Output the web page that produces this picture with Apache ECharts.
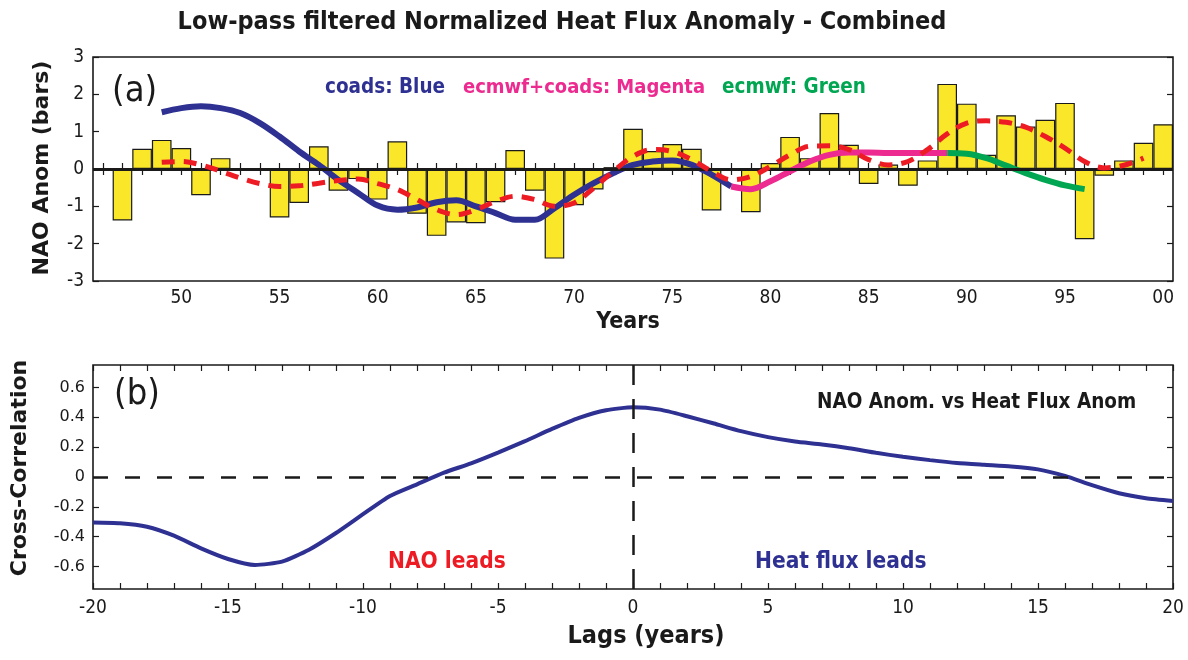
<!DOCTYPE html>
<html>
<head>
<meta charset="utf-8">
<script src="https://cdn.jsdelivr.net/npm/echarts@6/dist/echarts.min.js"></script>
<style>
  html, body { margin: 0; padding: 0; background: #fff; }
  #chart { width: 1188px; height: 660px; }
</style>
</head>
<body>
<div id="chart"></div>
<script>
// ---- Panel (a): yearly NAO anomaly bars and low-pass filtered heat flux curves ----
const YEARS = [1946, 1947, 1948, 1949, 1950, 1951, 1952, 1953, 1954, 1955,
               1956, 1957, 1958, 1959, 1960, 1961, 1962, 1963, 1964, 1965,
               1966, 1967, 1968, 1969, 1970, 1971, 1972, 1973, 1974, 1975,
               1976, 1977, 1978, 1979, 1980, 1981, 1982, 1983, 1984, 1985,
               1986, 1987, 1988, 1989, 1990, 1991, 1992, 1993, 1994, 1995,
               1996, 1997, 1998, 1999, 2000];

// NAO anomaly per year (bars); null = no bar drawn
const NAO_ANOM = [null, -1.38, 0.54, 0.78, 0.56, -0.70, 0.29, null, null, -1.30,
                  -0.91, 0.61, -0.58, -0.27, -0.82, 0.74, -1.20, -1.79, -1.43, -1.45,
                  -0.89, 0.51, -0.58, -2.40, -0.97, -0.55, 0.05, 1.08, 0.48, 0.67,
                  0.54, -1.11, null, -1.16, 0.16, 0.86, 0.29, 1.50, 0.65, -0.40,
                  0.12, -0.45, 0.23, 2.28, 1.75, 0.38, 1.44, 1.14, 1.32, 1.77,
                  -1.88, -0.18, 0.23, 0.70, 1.20];

// Low-pass filtered NAO (red dashed), starting 1949
const NAO_FILT_START = 1949;
const NAO_FILT = [0.18, 0.20, 0.11, -0.06, -0.24, -0.39, -0.47, -0.45, -0.38, -0.31,
                  -0.27, -0.39, -0.55, -0.82, -1.09, -1.22, -1.09, -0.87, -0.73, -0.82,
                  -1.00, -0.91, -0.51, -0.06, 0.34, 0.52, 0.47, 0.25, -0.06, -0.29,
                  -0.20, 0.07, 0.38, 0.61, 0.62, 0.52, 0.25, 0.11, 0.20, 0.52,
                  0.94, 1.23, 1.29, 1.25, 1.12, 0.87, 0.56, 0.20, 0.03, 0.10, 0.29];

// Normalized heat flux anomaly, three source segments
const COADS_START = 1949;
const COADS = [1.52, 1.63, 1.68, 1.63, 1.50, 1.23, 0.87, 0.47, 0.11, -0.29,
               -0.64, -0.98, -1.09, -1.03, -0.89, -0.84, -1.00, -1.18, -1.36, -1.36,
               -1.05, -0.69, -0.38, -0.11, 0.11, 0.20, 0.23, 0.11, -0.15, -0.47];
const MIXED_START = 1978;
const MIXED = [-0.47, -0.54, -0.33, -0.06, 0.20, 0.38, 0.44, 0.44, 0.43, 0.43, 0.43, 0.43];
const ECMWF_START = 1989;
const ECMWF = [0.43, 0.41, 0.29, 0.09, -0.11, -0.29, -0.44, -0.54];

// ---- Panel (b): lagged cross-correlation ----
const LAGS = [-20, -19, -18, -17, -16, -15, -14, -13, -12, -11, -10,
              -9, -8, -7, -6, -5, -4, -3, -2, -1, 0,
              1, 2, 3, 4, 5, 6, 7, 8, 9, 10,
              11, 12, 13, 14, 15, 16, 17, 18, 19, 20];
const CROSS_CORR = [-0.304, -0.309, -0.333, -0.393, -0.478, -0.549, -0.589, -0.567, -0.487, -0.375, -0.249,
                    -0.127, -0.049, 0.029, 0.091, 0.163, 0.240, 0.322, 0.396, 0.447, 0.467,
                    0.451, 0.407, 0.358, 0.307, 0.267, 0.238, 0.218, 0.193, 0.162, 0.135,
                    0.113, 0.094, 0.082, 0.071, 0.051, 0.007, -0.055, -0.109, -0.142, -0.160];
const CORR_TICKS = [-0.6, -0.4, -0.2, 0, 0.2, 0.4, 0.6];

// ---- styling ----
const NARROW = "'Liberation Sans Narrow', 'DejaVu Sans Condensed', 'Arial Narrow', 'Liberation Sans', sans-serif";
const WIDE = "'DejaVu Sans', Verdana, sans-serif";
const INK = '#1a1a1a';
const BLUE = '#2e3192';
const MAGENTA = '#ec2a8f';
const GREEN = '#00a651';
const RED = '#ed1c24';
const YELLOW = '#fbe72a';

const yearCats = YEARS.map(String);
const segment = (start, vals) => vals.map((v, i) => [String(start + i), v]);

const tickStyle = { show: true, inside: true, length: 6, lineStyle: { color: INK, width: 1.2 } };
const noLabel = { show: false };

const chart = echarts.init(document.getElementById('chart'), null, { renderer: 'canvas' });

const option = {
  animation: false,
  backgroundColor: '#ffffff',
  grid: [
    { left: 93, right: 15, top: 57, height: 224, show: true, borderColor: INK, borderWidth: 1.6, backgroundColor: 'transparent' },
    { left: 93, right: 15, top: 365, height: 224, show: true, borderColor: INK, borderWidth: 1.6, backgroundColor: 'transparent' }
  ],
  xAxis: [
    {
      gridIndex: 0, type: 'category', data: yearCats, position: 'bottom',
      boundaryGap: true,
      axisLine: { show: false },
      axisTick: Object.assign({}, tickStyle, { alignWithLabel: true, interval: 0 }),
      axisLabel: {
        interval: (idx, val) => (+val) % 5 === 0,
        formatter: (val) => String((+val) % 100).padStart(2, '0'),
        color: INK, fontFamily: NARROW, fontSize: 19, margin: 8
      },
      splitLine: { show: false }
    },
    {
      gridIndex: 0, type: 'category', data: yearCats, position: 'top',
      boundaryGap: true,
      axisLine: { show: false },
      axisTick: Object.assign({}, tickStyle, { alignWithLabel: true, interval: 0 }),
      axisLabel: noLabel, splitLine: { show: false }
    },
    {
      gridIndex: 1, type: 'value', min: -20, max: 20, interval: 1, position: 'bottom',
      axisLine: { show: false, onZero: false },
      axisTick: tickStyle,
      axisLabel: {
        formatter: (v) => (v % 5 === 0 ? String(v) : ''),
        color: INK, fontFamily: NARROW, fontSize: 19, margin: 10
      },
      splitLine: { show: false }
    },
    {
      gridIndex: 1, type: 'value', min: -20, max: 20, interval: 1, position: 'top',
      axisLine: { show: false, onZero: false },
      axisTick: tickStyle, axisLabel: noLabel, splitLine: { show: false }
    }
  ],
  yAxis: [
    {
      gridIndex: 0, type: 'value', min: -3, max: 3, interval: 1, position: 'left',
      axisLine: { show: false, onZero: false },
      axisTick: tickStyle,
      axisLabel: { color: INK, fontFamily: NARROW, fontSize: 19, margin: 9 },
      splitLine: { show: false }
    },
    {
      gridIndex: 0, type: 'value', min: -3, max: 3, interval: 1, position: 'right',
      axisLine: { show: false, onZero: false },
      axisTick: tickStyle, axisLabel: noLabel, splitLine: { show: false }
    },
    {
      gridIndex: 1, type: 'value', min: -0.75, max: 0.75, position: 'left',
      axisLine: { show: false, onZero: false },
      axisTick: Object.assign({}, tickStyle, { customValues: CORR_TICKS }),
      axisLabel: {
        customValues: CORR_TICKS,
        formatter: (v) => String(+v.toFixed(1)),
        color: INK, fontFamily: WIDE, fontSize: 16, margin: 8
      },
      splitLine: { show: false }
    },
    {
      gridIndex: 1, type: 'value', min: -0.75, max: 0.75, position: 'right',
      axisLine: { show: false, onZero: false },
      axisTick: Object.assign({}, tickStyle, { customValues: CORR_TICKS }),
      axisLabel: noLabel, splitLine: { show: false }
    }
  ],
  series: [
    {
      name: 'NAO anomaly', type: 'bar', xAxisIndex: 0, yAxisIndex: 0,
      data: NAO_ANOM, barCategoryGap: '0%', barWidth: '100%',
      itemStyle: { color: YELLOW, borderColor: INK, borderWidth: 1.2 },
      markLine: {
        silent: true, symbol: 'none', label: { show: false },
        lineStyle: { color: INK, width: 3, type: 'solid' },
        data: [{ yAxis: 0 }]
      },
      z: 2
    },
    {
      name: 'coads', type: 'line', xAxisIndex: 0, yAxisIndex: 0,
      data: segment(COADS_START, COADS), smooth: 0.35, showSymbol: false,
      lineStyle: { color: BLUE, width: 6 }, z: 4
    },
    {
      name: 'ecmwf+coads', type: 'line', xAxisIndex: 0, yAxisIndex: 0,
      data: segment(MIXED_START, MIXED), smooth: 0.35, showSymbol: false,
      lineStyle: { color: MAGENTA, width: 6 }, z: 4
    },
    {
      name: 'ecmwf', type: 'line', xAxisIndex: 0, yAxisIndex: 0,
      data: segment(ECMWF_START, ECMWF), smooth: 0.35, showSymbol: false,
      lineStyle: { color: GREEN, width: 6 }, z: 4
    },
    {
      name: 'NAO filtered', type: 'line', xAxisIndex: 0, yAxisIndex: 0,
      data: segment(NAO_FILT_START, NAO_FILT), smooth: 0.35, showSymbol: false,
      lineStyle: { color: RED, width: 5, type: [13, 9], cap: 'butt' }, z: 5
    },
    {
      name: 'cross-correlation', type: 'line', xAxisIndex: 2, yAxisIndex: 2,
      data: LAGS.map((l, i) => [l, CROSS_CORR[i]]), smooth: 0.2, showSymbol: false,
      lineStyle: { color: BLUE, width: 4 }, z: 4,
      markLine: {
        silent: true, symbol: 'none', label: { show: false },
        data: [
          { yAxis: 0, lineStyle: { color: INK, width: 2.5, type: [15, 17] } },
          { xAxis: 0, lineStyle: { color: INK, width: 2.5, type: [20, 14] } }
        ]
      }
    }
  ],
  graphic: [
    { type: 'text', x: 562, y: 22,
      style: { text: 'Low-pass filtered Normalized Heat Flux Anomaly - Combined', fill: INK,
               font: "bold 25px " + NARROW, align: 'center', verticalAlign: 'middle' } },
    { type: 'text', x: 112, y: 74,
      style: { text: '(a)', fill: INK, font: "36px " + NARROW } },
    { type: 'text', x: 325, y: 88,
      style: { text: 'coads: Blue', fill: BLUE, font: "bold 20.5px " + NARROW, verticalAlign: 'middle' } },
    { type: 'text', x: 463, y: 88,
      style: { text: 'ecmwf+coads: Magenta', fill: MAGENTA, font: "bold 20px " + NARROW, verticalAlign: 'middle' } },
    { type: 'text', x: 722, y: 88,
      style: { text: 'ecmwf: Green', fill: GREEN, font: "bold 20.5px " + NARROW, verticalAlign: 'middle' } },
    { type: 'text', x: 628, y: 322,
      style: { text: 'Years', fill: INK, font: "bold 23px " + NARROW, align: 'center', verticalAlign: 'middle' } },
    { type: 'text', x: 42, y: 168, rotation: Math.PI / 2,
      style: { text: 'NAO Anom (bars)', fill: INK, font: "bold 22px " + WIDE, align: 'center', verticalAlign: 'middle' } },
    { type: 'text', x: 114, y: 377,
      style: { text: '(b)', fill: INK, font: "36px " + NARROW } },
    { type: 'text', x: 817, y: 403,
      style: { text: 'NAO Anom. vs Heat Flux Anom', fill: INK, font: "bold 20.5px " + NARROW, verticalAlign: 'middle' } },
    { type: 'text', x: 388, y: 562,
      style: { text: 'NAO leads', fill: RED, font: "bold 22.5px " + NARROW, verticalAlign: 'middle' } },
    { type: 'text', x: 755, y: 562,
      style: { text: 'Heat flux leads', fill: BLUE, font: "bold 22.5px " + NARROW, verticalAlign: 'middle' } },
    { type: 'text', x: 20, y: 468, rotation: Math.PI / 2,
      style: { text: 'Cross-Correlation', fill: INK, font: "bold 22px " + WIDE, align: 'center', verticalAlign: 'middle' } },
    { type: 'text', x: 646, y: 636,
      style: { text: 'Lags (years)', fill: INK, font: "bold 25px " + NARROW, align: 'center', verticalAlign: 'middle' } }
  ]
};

chart.setOption(option);
</script>
</body>
</html>
